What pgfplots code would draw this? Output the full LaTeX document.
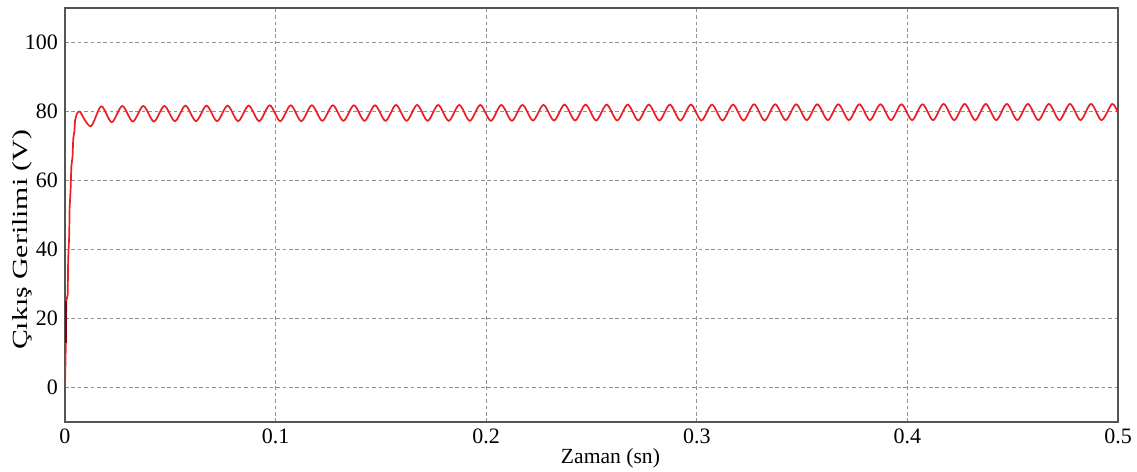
\documentclass[border=0pt]{standalone}
\usepackage{fontspec}
\setmainfont{Liberation Serif}
\usepackage{pgfplots}
\pgfplotsset{compat=1.18}
\usepackage{pgfplotstable}
\definecolor{sigred}{RGB}{235,30,35}
\definecolor{darkred}{RGB}{130,0,10}
\definecolor{axgray}{RGB}{85,85,85}
\definecolor{gridgray}{RGB}{145,145,145}
\pgfplotstableread{
t v
0.0072 80.0
0.0122 75.7
0.0172 81.5
0.0222 76.9
0.0272 81.6
0.0322 77.1
0.0372 81.6
0.0422 77.1
0.0472 81.6
0.0522 77.2
0.0572 81.7
0.0622 77.2
0.0672 81.7
0.0722 77.2
0.0772 81.7
0.0822 77.2
0.0872 81.7
0.0922 77.2
0.0972 81.8
0.1022 77.2
0.1072 81.8
0.1122 77.2
0.1172 81.8
0.1222 77.3
0.1272 81.8
0.1322 77.3
0.1372 81.8
0.1422 77.3
0.1472 81.8
0.1522 77.3
0.1572 81.9
0.1622 77.3
0.1672 81.9
0.1722 77.3
0.1772 81.9
0.1822 77.3
0.1872 81.9
0.1922 77.3
0.1972 81.9
0.2022 77.3
0.2072 81.9
0.2122 77.3
0.2172 81.9
0.2222 77.4
0.2272 81.9
0.2322 77.4
0.2372 82.0
0.2422 77.4
0.2472 82.0
0.2522 77.4
0.2572 82.0
0.2622 77.4
0.2672 82.0
0.2722 77.4
0.2772 82.0
0.2822 77.4
0.2872 82.0
0.2922 77.4
0.2972 82.0
0.3022 77.4
0.3072 82.0
0.3122 77.4
0.3172 82.0
0.3222 77.4
0.3272 82.1
0.3322 77.4
0.3372 82.1
0.3422 77.5
0.3472 82.1
0.3522 77.5
0.3572 82.1
0.3622 77.5
0.3672 82.1
0.3722 77.5
0.3772 82.1
0.3822 77.5
0.3872 82.1
0.3922 77.5
0.3972 82.1
0.4022 77.5
0.4072 82.1
0.4122 77.5
0.4172 82.2
0.4222 77.5
0.4272 82.2
0.4322 77.5
0.4372 82.2
0.4422 77.5
0.4472 82.2
0.4522 77.5
0.4572 82.2
0.4622 77.5
0.4672 82.2
0.4722 77.5
0.4772 82.2
0.4822 77.5
0.4872 82.2
0.4922 77.5
0.4972 82.2
0.5000 79.5
}\ripple
\pgfplotstableread{
t v
0.0000 0.0
0.0004 13.0
0.0006 25.0
0.0013 27.0
0.0015 37.0
0.0020 44.0
0.0022 52.0
0.0027 58.0
0.0030 64.0
0.0036 67.0
0.0039 72.0
0.0045 74.5
0.0048 77.5
0.0056 79.3
0.0063 79.9
0.0072 80.0
}\startup
\begin{document}
\begin{tikzpicture}
\begin{axis}[
  scale only axis,
  width=526.5pt, height=207pt,
  xmin=0, xmax=0.5, ymin=-10, ymax=110,
  xtick={0,0.1,0.2,0.3,0.4,0.5},
  ytick={0,20,40,60,80,100},
  xticklabels={0,0.1,0.2,0.3,0.4,0.5},
  major tick length=0pt,
  grid=major,
  major grid style={gridgray, line width=0.55pt, dash pattern=on 1.8pt off 1.4pt},
  axis line style={axgray, line width=0.9pt},
  tick label style={font=\fontsize{11}{13}\selectfont},
  /pgf/number format/assume math mode=true,
  xlabel={Zaman (sn)},
  xlabel style={font=\fontsize{10.8}{12}\selectfont, at={(axis description cs:0.518,0)}, anchor=north, yshift=-9.5pt},
  ylabel={\scalebox{1.38}[1]{Çıkış Gerilimi (V)}},
  ylabel style={font=\fontsize{10.8}{12}\selectfont, at={(axis description cs:-0.0404,0.44)}, anchor=center},
]
\addplot[sigred, line width=0.85pt] table[x=t, y=v] {\startup};
\addplot[darkred, line width=0.9pt] coordinates {(0.0005,13) (0.0005,25)};
\addplot[sigred, line width=0.85pt, smooth] table[x=t, y=v] {\ripple};
\end{axis}
\pgfresetboundingbox
\path ([xshift=-32.5pt,yshift=-24.5pt]current axis.south west) rectangle ([xshift=9.5pt,yshift=4pt]current axis.north east);
\end{tikzpicture}
\end{document}
